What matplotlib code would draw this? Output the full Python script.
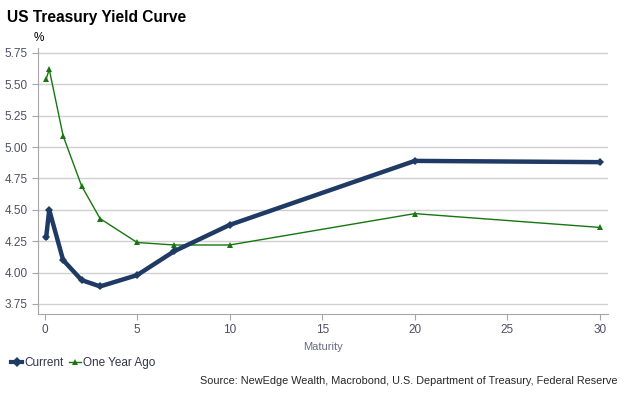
import matplotlib
matplotlib.use("Agg")
import matplotlib.pyplot as plt
from matplotlib.lines import Line2D

plt.rcParams['font.family'] = ['Liberation Sans', 'DejaVu Sans']

maturity = [0.083, 0.25, 1, 2, 3, 5, 7, 10, 20, 30]
current = [4.28, 4.50, 4.10, 3.94, 3.89, 3.98, 4.17, 4.38, 4.89, 4.88]
one_year_ago = [5.54, 5.62, 5.09, 4.69, 4.43, 4.24, 4.22, 4.22, 4.47, 4.36]
yticks = [3.75, 4.00, 4.25, 4.50, 4.75, 5.00, 5.25, 5.50, 5.75]
xticks = [0, 5, 10, 15, 20, 25, 30]

navy = '#1F3A64'
green = '#17760F'
grey_text = '#4F4F66'

fig = plt.figure(figsize=(6.25, 3.96), dpi=100)
ax = fig.add_axes([0.061, 0.207, 0.912, 0.672])

ax.plot(maturity, one_year_ago, color=green, lw=1.0, marker='^', ms=4.5,
        markeredgewidth=0, zorder=3)
ax.plot(maturity, current, color=navy, lw=3.2, marker='D', ms=4.5,
        markeredgewidth=0, zorder=4)

ax.set_xlim(-0.35, 30.45)
ax.set_ylim(3.67, 5.79)
ax.set_yticks(yticks)
ax.set_yticklabels([f"{v:.2f}" for v in yticks])
ax.set_xticks(xticks)
ax.grid(axis='y', color='#D0D0D0', lw=1.0)
ax.set_axisbelow(True)
for s in ['top', 'right']:
    ax.spines[s].set_visible(False)
for s in ['left', 'bottom']:
    ax.spines[s].set_color('#A6A6A6')
ax.tick_params(axis='both', colors='#A6A6A6', labelcolor=grey_text,
               labelsize=8.5, length=4, direction='out')
ax.set_xlabel('Maturity', color='#6A6A80', fontsize=8, labelpad=4)

fig.text(0.011, 0.955, 'US Treasury Yield Curve', fontsize=11.2, fontweight='bold',
         color='black', va='center', ha='left')
fig.text(0.053, 0.905, '%', fontsize=8.5, color='black', va='center', ha='left')

handles = [Line2D([], [], color=navy, lw=3, marker='D', ms=5, markeredgewidth=0),
           Line2D([], [], color=green, lw=1, marker='^', ms=5, markeredgewidth=0)]
fig.legend(handles, ['Current', 'One Year Ago'], loc='center left',
           bbox_to_anchor=(0.0, 0.084), ncol=2, frameon=False, fontsize=8.5,
           handlelength=1.0, handletextpad=0.15, columnspacing=0.5,
           labelcolor='#33334D')

fig.text(0.988, 0.037, 'Source: NewEdge Wealth, Macrobond, U.S. Department of Treasury, Federal Reserve',
         fontsize=7.8, color='#262626', ha='right', va='center')

fig.savefig('out.png', dpi=100)
